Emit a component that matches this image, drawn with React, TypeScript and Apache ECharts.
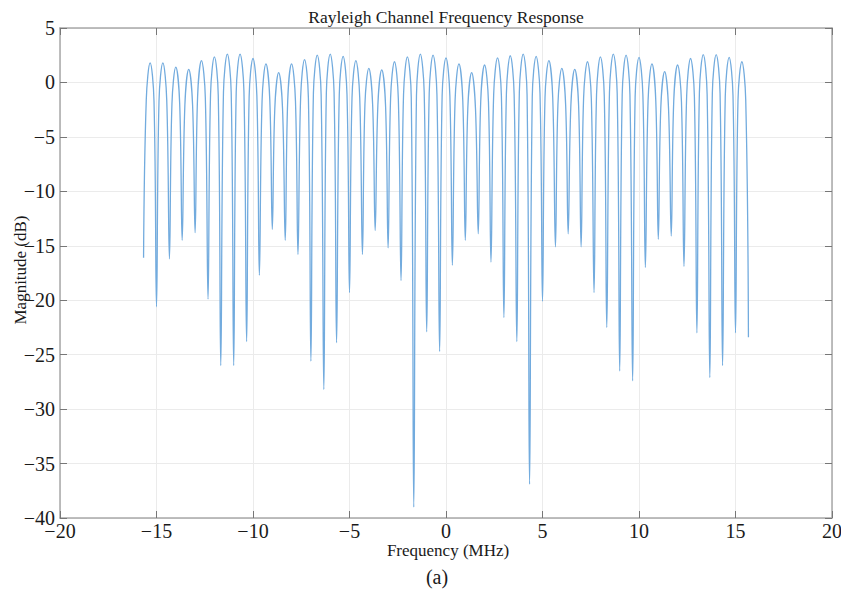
import React, { useEffect, useRef } from "react";
import * as echarts from "echarts";

// Null (notch) frequencies in MHz (incl. both ends of the trace)
const nullFreq = [
  -15.67, -15.0, -14.33, -13.67, -13.0, -12.33, -11.67, -11.0, -10.33, -9.67, -9.0, -8.33,
  -7.67, -7.0, -6.33, -5.67, -5.0, -4.33, -3.67, -3.0, -2.33, -1.67, -1.0, -0.33,
  0.33, 1.0, 1.67, 2.33, 3.0, 3.67, 4.33, 5.0, 5.67, 6.33, 7.0, 7.67,
  8.33, 9.0, 9.67, 10.33, 11.0, 11.67, 12.33, 13.0, 13.67, 14.33, 15.0, 15.67,
];
// Null depths in dB
const nullDb = [
  -16.1, -20.6, -16.2, -14.5, -13.8, -19.9, -26.0, -26.0, -23.8, -17.7, -13.5, -14.5,
  -15.8, -25.6, -28.2, -23.9, -19.3, -15.8, -13.6, -15.2, -18.2, -39.0, -22.9, -24.7,
  -16.8, -14.5, -13.9, -16.5, -21.6, -23.8, -36.9, -20.1, -15.1, -13.9, -15.1, -19.3,
  -22.5, -26.5, -27.4, -17.0, -14.4, -14.1, -16.9, -23.0, -27.1, -26.0, -23.0, -23.4,
];
// Lobe peak frequencies (MHz) and heights (dB)
const peakFreq = [
  -15.33, -14.67, -14.0, -13.33, -12.67, -12.0, -11.33, -10.67, -10.0, -9.33, -8.67, -8.0,
  -7.33, -6.67, -6.0, -5.33, -4.67, -4.0, -3.33, -2.67, -2.0, -1.33, -0.67, 0.0,
  0.67, 1.33, 2.0, 2.67, 3.33, 4.0, 4.67, 5.33, 6.0, 6.67, 7.33, 8.0,
  8.67, 9.33, 10.0, 10.67, 11.33, 12.0, 12.67, 13.33, 14.0, 14.67, 15.33,
];
const peakDb = [
  1.8, 1.8, 1.4, 1.2, 2.0, 2.35, 2.6, 2.6, 2.2, 1.7, 0.9, 1.7,
  2.1, 2.5, 2.6, 2.4, 2.0, 1.3, 1.15, 1.9, 2.35, 2.6, 2.5, 2.25,
  1.7, 0.9, 1.6, 2.25, 2.45, 2.6, 2.4, 2.0, 1.3, 1.2, 1.9, 2.35,
  2.6, 2.5, 2.3, 1.7, 1.0, 1.6, 2.2, 2.55, 2.55, 2.3, 1.9,
];
// Lobe shoulders (dB), 0.2 MHz left / right of each peak
const shoulderOffset = 0.2;
const shoulderLeftDb = [
  -1.6, -1.7, -2.0, -2.1, -1.3, -1.1, -0.9, -0.9, -1.3, -1.7, -2.4, -1.6,
  -1.3, -1.0, -1.0, -1.1, -1.4, -2.0, -2.1, -1.4, -1.1, -1.2, -1.0, -1.2,
  -1.7, -2.4, -1.7, -1.1, -1.0, -0.9, -1.3, -1.4, -2.0, -2.1, -1.4, -1.1,
  -0.9, -1.1, -1.3, -1.7, -2.3, -1.7, -1.2, -0.9, -1.0, -1.3, -1.6,
];
const shoulderRightDb = [
  -1.7, -1.6, -1.9, -2.1, -1.4, -1.2, -0.9, -0.8, -1.2, -1.6, -2.4, -1.7,
  -1.4, -1.1, -0.9, -1.1, -1.4, -2.1, -2.2, -1.5, -1.4, -0.9, -1.1, -1.2,
  -1.7, -2.5, -1.8, -1.2, -1.1, -1.1, -1.0, -1.4, -2.1, -2.1, -1.5, -1.2,
  -1.0, -1.1, -1.1, -1.7, -2.4, -1.8, -1.3, -1.1, -1.0, -1.2, -1.6,
];

const SERIF = "'Liberation Serif', 'Times New Roman', serif";
const TEXT = "#1a1a1a";
const FRAME = "#a9a9a9";
const TICK = "#777777";
const GRIDC = "#ebebeb";

const fmt = (v: number) => String(v).replace("-", "\u2212");

export default function App() {
  const ref = useRef<HTMLDivElement>(null);
  useEffect(() => {
    if (!ref.current) return;
    const chart = echarts.init(ref.current, undefined, { renderer: "svg" });
    const pts: [number, number][] = [];
    for (let i = 0; i < peakFreq.length; i++) {
      pts.push([nullFreq[i], nullDb[i]]);
      pts.push([peakFreq[i] - shoulderOffset, shoulderLeftDb[i]]);
      pts.push([peakFreq[i], peakDb[i]]);
      pts.push([peakFreq[i] + shoulderOffset, shoulderRightDb[i]]);
    }
    pts.push([nullFreq[nullFreq.length - 1], nullDb[nullDb.length - 1]]);

    const xCommon = {
      type: "value" as const,
      min: -20,
      max: 20,
      interval: 5,
      axisLine: { show: true, onZero: false, lineStyle: { color: FRAME, width: 1.5 } },
      axisTick: { show: true, inside: true, length: 7, lineStyle: { color: TICK, width: 1 } },
    };
    const yCommon = {
      type: "value" as const,
      min: -40,
      max: 5,
      interval: 5,
      axisLine: { show: true, onZero: false, lineStyle: { color: FRAME, width: 1.5 } },
      axisTick: { show: true, inside: true, length: 7, lineStyle: { color: TICK, width: 1 } },
    };

    chart.setOption({
      animation: false,
      backgroundColor: "#ffffff",
      grid: { left: 60, right: 17, top: 28, bottom: 86, containLabel: false },
      xAxis: [
        {
          ...xCommon,
          position: "bottom",
          splitLine: { show: true, lineStyle: { color: GRIDC, width: 1 } },
          axisLabel: {
            formatter: fmt,
            fontFamily: SERIF,
            fontSize: 20,
            color: TEXT,
            margin: 3,
          },
        },
        {
          ...xCommon,
          position: "top",
          splitLine: { show: false },
          axisLabel: { show: false },
        },
      ],
      yAxis: [
        {
          ...yCommon,
          position: "left",
          splitLine: { show: true, lineStyle: { color: GRIDC, width: 1 } },
          axisLabel: {
            formatter: fmt,
            fontFamily: SERIF,
            fontSize: 20,
            color: TEXT,
            margin: 5,
          },
        },
        {
          ...yCommon,
          position: "right",
          splitLine: { show: false },
          axisLabel: { show: false },
        },
      ],
      graphic: [
        {
          type: "text",
          x: 446,
          y: 17,
          style: {
            text: "Rayleigh Channel Frequency Response",
            fontFamily: SERIF,
            fontSize: 17.5,
            fill: TEXT,
            align: "center",
            verticalAlign: "middle",
          },
        },
        {
          type: "text",
          x: 448,
          y: 550,
          style: {
            text: "Frequency (MHz)",
            fontFamily: SERIF,
            fontSize: 17,
            fill: TEXT,
            align: "center",
            verticalAlign: "middle",
          },
        },
        {
          type: "text",
          x: 20,
          y: 270,
          rotation: Math.PI / 2,
          style: {
            text: "Magnitude (dB)",
            fontFamily: SERIF,
            fontSize: 17,
            fill: TEXT,
            align: "center",
            verticalAlign: "middle",
          },
        },
        {
          type: "text",
          x: 437,
          y: 577,
          style: {
            text: "(a)",
            fontFamily: SERIF,
            fontSize: 20,
            fill: TEXT,
            align: "center",
            verticalAlign: "middle",
          },
        },
      ],
      series: [
        {
          type: "line",
          xAxisIndex: 0,
          yAxisIndex: 0,
          data: pts,
          showSymbol: false,
          smooth: 0.4,
          lineStyle: { color: "#72abde", width: 1.3 },
          z: 5,
        },
      ],
    });
    return () => chart.dispose();
  }, []);
  return <div ref={ref} style={{ width: 849, height: 604, margin: -8 }} />;
}
